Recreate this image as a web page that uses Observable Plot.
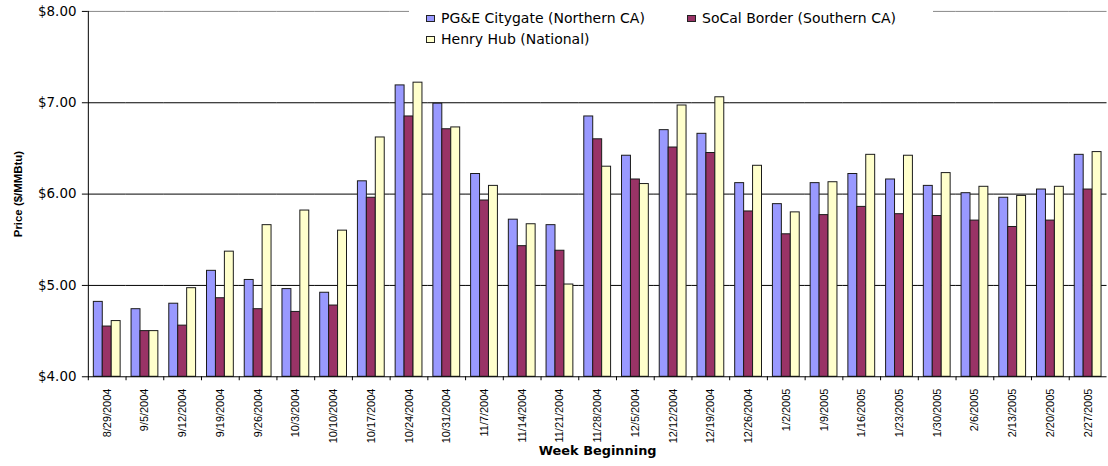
<!DOCTYPE html>
<html>
<head>
<meta charset="utf-8">
<script src="https://cdn.jsdelivr.net/npm/d3@7"></script>
<script src="https://cdn.jsdelivr.net/npm/@observablehq/plot@0.6"></script>
<style>
  html, body { margin: 0; padding: 0; background: #fff; }
  #wrap { position: relative; width: 1108px; height: 466px; overflow: hidden; background: #fff; }
  #legend { position: absolute; left: 409px; top: 0; width: 524px; height: 52px; background: #fff;
            font-family: "DejaVu Sans", sans-serif; font-size: 14px; color: #000; }
  .item { position: absolute; display: flex; align-items: center; white-space: nowrap; }
  .sw { width: 7px; height: 5px; border: 1px solid #222; margin-right: 6px; }
  g[aria-label="y-axis tick label"] text { font-family: "DejaVu Sans", sans-serif; font-size: 13.5px; }
  g[aria-label="y-axis label"] text { font-family: "Liberation Sans", Arial, sans-serif; font-size: 11.5px; font-weight: bold; }
  g[aria-label="fx-axis tick label"] text { font-family: "Liberation Sans", Arial, sans-serif; font-size: 11px; }
  g[aria-label="fx-axis label"] text { font-family: "DejaVu Sans", sans-serif; font-size: 13px; font-weight: bold; }
</style>
</head>
<body>
<div id="wrap">
  <div id="chart"></div>
  <div id="legend"></div>
</div>
<script>
// ---- data ----
const weeks = ["8/29/2004","9/5/2004","9/12/2004","9/19/2004","9/26/2004","10/3/2004","10/10/2004",
  "10/17/2004","10/24/2004","10/31/2004","11/7/2004","11/14/2004","11/21/2004","11/28/2004",
  "12/5/2004","12/12/2004","12/19/2004","12/26/2004","1/2/2005","1/9/2005","1/16/2005",
  "1/23/2005","1/30/2005","2/6/2005","2/13/2005","2/20/2005","2/27/2005"];
const seriesNames = ["PG&E Citygate (Northern CA)", "SoCal Border (Southern CA)", "Henry Hub (National)"];
const seriesColors = ["#9999FF", "#993366", "#FFFFCC"];
const pge   = [4.82,4.74,4.80,5.16,5.06,4.96,4.92,6.14,7.19,6.99,6.22,5.72,5.66,6.85,6.42,6.70,6.66,6.12,5.89,6.12,6.22,6.16,6.09,6.01,5.96,6.05,6.43];
const socal = [4.55,4.50,4.56,4.86,4.74,4.71,4.78,5.96,6.85,6.71,5.93,5.43,5.38,6.60,6.16,6.51,6.45,5.81,5.56,5.77,5.86,5.78,5.76,5.71,5.64,5.71,6.05];
const henry = [4.61,4.50,4.97,5.37,5.66,5.82,5.60,6.62,7.22,6.73,6.09,5.67,5.01,6.30,6.11,6.97,7.06,6.31,5.80,6.13,6.43,6.42,6.23,6.08,5.98,6.08,6.46];
const yTicks = [4, 5, 6, 7, 8];

const valuesBySeries = [pge, socal, henry];
const table = [];
weeks.forEach((w, i) => seriesNames.forEach((s, j) => table.push({week: w, series: s, value: valuesBySeries[j][i]})));

// ---- layout ----
const W = 1116, H = 466, ML = 87, MR = 0, MT = 11, MB = 87;
const step = (W - ML - MR) / weeks.length;
const gapHalf = step * 0.29 / 2;

const chart = Plot.plot({
  width: W, height: H,
  marginLeft: ML, marginRight: MR, marginTop: MT, marginBottom: MB,
  style: {fontFamily: "'Liberation Sans', Arial, sans-serif", fontSize: "11px", background: "white", color: "black"},
  fx: {domain: weeks, paddingInner: 0.29, paddingOuter: 0.145, label: null, axis: null},
  x: {domain: seriesNames, padding: 0, axis: null},
  y: {domain: [4, 8], axis: null},
  color: {domain: seriesNames, range: seriesColors},
  marks: [
    Plot.ruleY([8], {stroke: "#888", insetLeft: -gapHalf, insetRight: -gapHalf}),
    Plot.ruleY([5, 6, 7], {stroke: "#000", insetLeft: -gapHalf, insetRight: -gapHalf}),
    Plot.barY(table, {fx: "week", x: "series", y1: 4, y2: "value", fill: "series", stroke: "#1a1a1a", strokeWidth: 1}),
    Plot.ruleY([4], {stroke: "#000", insetLeft: -gapHalf, insetRight: -gapHalf}),
    Plot.frame({anchor: "left", facetAnchor: "left", stroke: "#000", dx: -gapHalf}),
    Plot.axisY({ticks: yTicks, tickFormat: d => "$" + d.toFixed(2), tickSize: 6, tickPadding: 6, stroke: "#000",
      label: "Price ($/MMBtu)", labelAnchor: "center", labelOffset: 81, labelArrow: "none", dx: -gapHalf}),
    Plot.axisFx({anchor: "bottom", tickSize: 4, text: null, label: null, stroke: "#000", dx: -step / 2}),
    Plot.axisFx({anchor: "bottom", tickSize: 0, tickRotate: -90, tickPadding: 12, label: "Week Beginning", labelAnchor: "center", labelOffset: 79})
  ]
});
document.getElementById("chart").appendChild(chart);

// ---- legend ----
const legend = document.getElementById("legend");
const pos = [{left: 17, top: 10}, {left: 278, top: 10}, {left: 17, top: 31}];
seriesNames.forEach((s, i) => {
  const it = document.createElement("div");
  it.className = "item";
  it.style.left = pos[i].left + "px";
  it.style.top = pos[i].top + "px";
  const sw = document.createElement("span");
  sw.className = "sw";
  sw.style.background = seriesColors[i];
  const t = document.createElement("span");
  t.textContent = s;
  it.appendChild(sw); it.appendChild(t);
  legend.appendChild(it);
});
</script>
</body>
</html>
